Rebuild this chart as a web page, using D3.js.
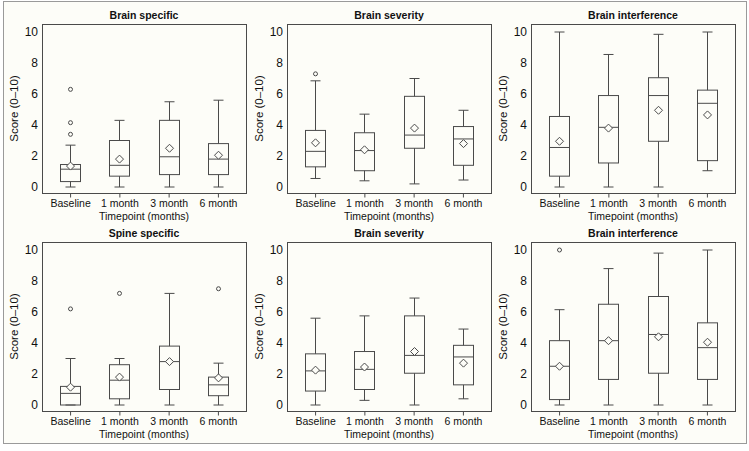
<!DOCTYPE html>
<html>
<head>
<meta charset="utf-8">
<script src="https://cdn.jsdelivr.net/npm/d3@7"></script>
<style>
  html, body { margin: 0; padding: 0; background: #ffffff; }
  svg { display: block; font-family: "Liberation Sans", Arial, Helvetica, sans-serif; }
</style>
</head>
<body>
<svg id="chart" width="749" height="451"></svg>
<script>
// ---------------- DATA ----------------
const categories = ["Baseline", "1 month", "3 month", "6 month"];
const panelTitles = ["Brain specific", "Brain severity", "Brain interference",
                     "Spine specific", "Brain severity", "Brain interference"];
const yTicks = [0, 2, 4, 6, 8, 10];
const yLabel = "Score (0\u201310)";
const xLabel = "Timepoint (months)";

// one row per panel, one value per category
const whiskerLow = [
  [0, 0, 0, 0],
  [0.55, 0.4, 0.2, 0.45],
  [0, 0, 0, 1.05],
  [0, 0, 0, 0],
  [0, 0.3, 0, 0.4],
  [0, 0, 0, 0]
];
const q1 = [
  [0.35, 0.7, 0.8, 0.8],
  [1.3, 1.05, 2.5, 1.4],
  [0.7, 1.55, 2.95, 1.7],
  [0, 0.4, 1.0, 0.6],
  [0.9, 1.0, 2.05, 1.3],
  [0.35, 1.65, 2.05, 1.65]
];
const medians = [
  [1.15, 1.4, 1.95, 1.8],
  [2.3, 2.35, 3.35, 3.1],
  [2.55, 3.85, 5.9, 5.4],
  [0.75, 1.6, 2.8, 1.3],
  [2.2, 2.3, 3.2, 3.1],
  [2.5, 4.15, 4.55, 3.7]
];
const q3 = [
  [1.45, 3.0, 4.3, 2.8],
  [3.65, 3.5, 5.85, 3.9],
  [4.55, 5.9, 7.05, 6.25],
  [1.2, 2.6, 3.8, 1.8],
  [3.3, 3.45, 5.75, 3.85],
  [4.15, 6.5, 7.0, 5.3]
];
const whiskerHigh = [
  [2.7, 4.3, 5.5, 5.6],
  [6.85, 4.7, 7.0, 4.95],
  [10, 8.55, 9.85, 10],
  [3.0, 3.0, 7.2, 2.7],
  [5.6, 5.75, 6.9, 4.9],
  [6.15, 8.8, 9.8, 10]
];
const means = [
  [1.35, 1.8, 2.5, 2.05],
  [2.85, 2.4, 3.8, 2.8],
  [2.95, 3.8, 4.95, 4.65],
  [1.15, 1.8, 2.8, 1.75],
  [2.25, 2.45, 3.45, 2.7],
  [2.5, 4.15, 4.4, 4.05]
];
// [panel, category index, value]
const outliers = [
  [0, 0, 3.4], [0, 0, 4.15], [0, 0, 6.3],
  [1, 0, 7.3],
  [3, 0, 6.2], [3, 1, 7.2], [3, 3, 7.5],
  [5, 0, 10]
];

// ---------------- LAYOUT ----------------
const svg = d3.select("#chart");
const bg = "#fdfdf8";
const ink = "#4a4a4a";

svg.append("rect").attr("x", 3.5).attr("y", 1.5).attr("width", 743).attr("height", 442)
  .attr("fill", bg).attr("stroke", "#9a9a9a").attr("stroke-width", 1);

const colLefts = [42, 287, 531];
const rowTops = [24, 242];
const boxW = 204, boxH = 169;

panelTitles.forEach((title, p) => {
  const left = colLefts[p % 3];
  const top = rowTops[Math.floor(p / 3)];
  const bottom = top + boxH;
  const g = svg.append("g");

  const x = d3.scalePoint().domain(categories).range([left, left + boxW]).padding(0.57);
  const y = d3.scaleLinear().domain([0, 10]).range([bottom - 6, top + 8]);

  // plot frame
  g.append("rect").attr("x", left + 0.5).attr("y", top + 0.5)
    .attr("width", boxW).attr("height", boxH)
    .attr("fill", bg).attr("stroke", ink).attr("stroke-width", 1);

  // title
  g.append("text").attr("x", left + boxW / 2).attr("y", top - 5)
    .attr("text-anchor", "middle").attr("font-size", 10.5).attr("font-weight", "bold")
    .attr("fill", "#111").text(title);

  // y axis
  const yAxis = d3.axisLeft(y).tickValues(yTicks).tickSize(0).tickPadding(4);
  const ya = g.append("g").attr("transform", `translate(${left},0)`).call(yAxis);
  ya.select(".domain").remove();
  ya.selectAll("text").attr("font-size", 12).attr("fill", "#111")
    .attr("font-family", "Liberation Sans, Arial, sans-serif");

  // x axis
  const xAxis = d3.axisBottom(x).tickSize(4).tickPadding(2);
  const xa = g.append("g").attr("transform", `translate(0,${bottom + 0.5})`).call(xAxis);
  xa.select(".domain").remove();
  xa.selectAll("line").attr("stroke", ink);
  xa.selectAll("text").attr("font-size", 10.5).attr("fill", "#111")
    .attr("font-family", "Liberation Sans, Arial, sans-serif");

  // axis labels
  g.append("text").attr("x", left + boxW / 2).attr("y", bottom + 27)
    .attr("text-anchor", "middle").attr("font-size", 10.5).attr("fill", "#111").text(xLabel);
  g.append("text")
    .attr("transform", `translate(${left - 24},${top + boxH / 2}) rotate(-90)`)
    .attr("text-anchor", "middle").attr("font-size", 11.5).attr("fill", "#111").text(yLabel);

  // boxes
  const halfBox = 10, halfCap = 5;
  categories.forEach((c, i) => {
    const cx = Math.round(x(c)) + 0.5;
    const bx = g.append("g").attr("stroke", ink).attr("stroke-width", 1).attr("fill", "none");
    // whiskers
    bx.append("line").attr("x1", cx).attr("x2", cx).attr("y1", y(whiskerLow[p][i])).attr("y2", y(q1[p][i]));
    bx.append("line").attr("x1", cx).attr("x2", cx).attr("y1", y(q3[p][i])).attr("y2", y(whiskerHigh[p][i]));
    bx.append("line").attr("x1", cx - halfCap).attr("x2", cx + halfCap)
      .attr("y1", y(whiskerLow[p][i])).attr("y2", y(whiskerLow[p][i]));
    bx.append("line").attr("x1", cx - halfCap).attr("x2", cx + halfCap)
      .attr("y1", y(whiskerHigh[p][i])).attr("y2", y(whiskerHigh[p][i]));
    // box
    bx.append("rect").attr("x", cx - halfBox).attr("width", 2 * halfBox)
      .attr("y", y(q3[p][i])).attr("height", y(q1[p][i]) - y(q3[p][i]));
    // median
    bx.append("line").attr("x1", cx - halfBox).attr("x2", cx + halfBox)
      .attr("y1", y(medians[p][i])).attr("y2", y(medians[p][i]));
    // mean diamond
    const my = y(means[p][i]), d = 4;
    bx.append("path").attr("fill", bg)
      .attr("d", `M${cx},${my - d}L${cx + d},${my}L${cx},${my + d}L${cx - d},${my}Z`);
  });

  // outliers
  outliers.filter(o => o[0] === p).forEach(o => {
    g.append("circle").attr("cx", Math.round(x(categories[o[1]])) + 0.5).attr("cy", y(o[2]))
      .attr("r", 2).attr("fill", "none").attr("stroke", ink).attr("stroke-width", 1);
  });
});
</script>
</body>
</html>
